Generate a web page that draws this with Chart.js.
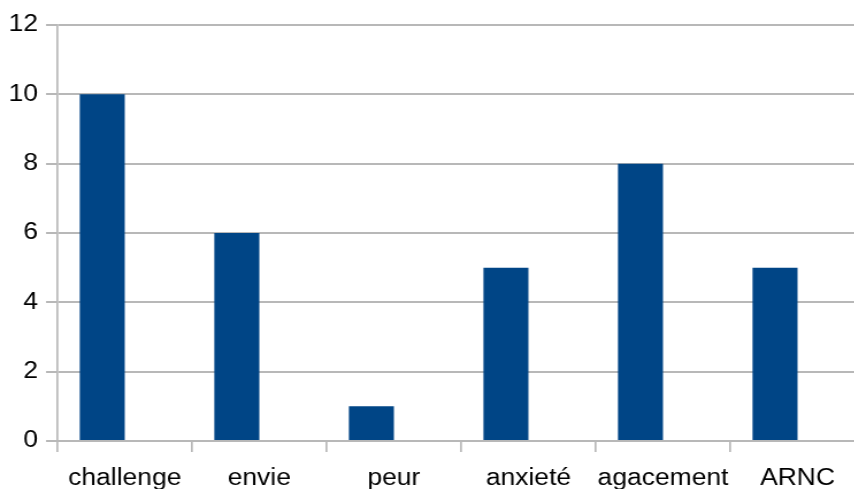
<!DOCTYPE html>
<html>
<head>
<meta charset="utf-8">
<script src="https://cdn.jsdelivr.net/npm/chart.js@4.4.1/dist/chart.umd.min.js"></script>
<style>
  html, body { margin: 0; padding: 0; background: #fff; overflow: hidden; width: 854px; height: 489px; }
  #wrap { position: absolute; left: 0; top: 0; width: 757px; height: 489px; transform: scaleX(1.15); transform-origin: 0 0; }
</style>
</head>
<body>
<div id="wrap"><canvas id="c" width="757" height="489"></canvas></div>
<script>
const categories = ['challenge', 'envie', 'peur', 'anxieté', 'agacement', 'ARNC'];
const counts = [10, 6, 1, 5, 8, 5];
const blankSeries = [null, null, null, null, null, null];
const yTicks = [0, 2, 4, 6, 8, 10, 12];

const gridGray = '#b8b8b8';
const barBlue = '#004586';
const labelFont = { family: '"Liberation Sans", Arial, sans-serif', size: 23 };

new Chart(document.getElementById('c'), {
  type: 'bar',
  data: {
    labels: categories,
    datasets: [
      { data: counts, backgroundColor: barBlue, borderWidth: 0 },
      { data: blankSeries, backgroundColor: '#ff420e', borderWidth: 0 }
    ]
  },
  options: {
    responsive: false,
    animation: false,
    events: [],
    layout: { padding: { left: 0, right: 5, top: 25, bottom: 0 } },
    datasets: { bar: { categoryPercentage: 0.669, barPercentage: 1.0 } },
    plugins: { legend: { display: false }, tooltip: { enabled: false } },
    scales: {
      x: {
        offset: true,
        grid: { offset: true, drawOnChartArea: false, drawTicks: true, tickLength: 11, color: gridGray, lineWidth: 1.7 },
        border: { display: true, color: gridGray, width: 2 },
        ticks: { color: '#000', font: labelFont, padding: 13, maxRotation: 0, autoSkip: false },
        afterFit: s => { s.height = 48; }
      },
      y: {
        min: yTicks[0],
        max: yTicks[yTicks.length - 1],
        afterBuildTicks: s => { s.ticks = yTicks.map(v => ({ value: v })); },
        grid: { color: gridGray, lineWidth: 2, tickLength: 10 },
        border: { display: true, color: gridGray, width: 1.7 },
        ticks: { color: '#000', font: labelFont, padding: 7 },
        afterFit: s => { s.width = 50; }
      }
    }
  }
});
</script>
</body>
</html>
